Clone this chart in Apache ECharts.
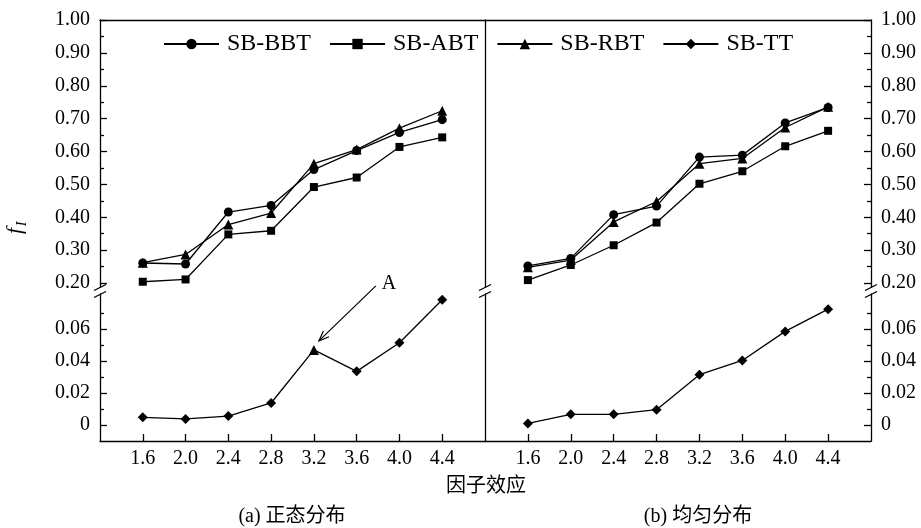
<!DOCTYPE html>
<html><head><meta charset="utf-8">
<script src="https://cdn.jsdelivr.net/npm/echarts@6/dist/echarts.min.js"></script>
<style>html,body{margin:0;padding:0;background:#fff}#c{width:921px;height:528px}</style>
</head><body><div id="c"></div><script>
// ---- data ----
const xVals = [1.6, 2.0, 2.4, 2.8, 3.2, 3.6, 4.0, 4.4];
// (a) normal distribution
const bbtA = [0.261, 0.258, 0.416, 0.436, 0.545, 0.603, 0.658, 0.697];
const abtA = [0.204, 0.211, 0.348, 0.359, 0.492, 0.521, 0.614, 0.643];
const rbtA = [0.262, 0.287, 0.378, 0.413, 0.563, 0.606, 0.671, 0.724];
const ttA  = [0.0048, 0.0038, 0.0056, 0.0138, 0.0470, 0.0336, 0.0515, 0.0784];
// (b) uniform distribution
const bbtB = [0.252, 0.275, 0.408, 0.434, 0.583, 0.589, 0.687, 0.734];
const abtB = [0.209, 0.255, 0.315, 0.384, 0.502, 0.540, 0.616, 0.663];
const rbtB = [0.248, 0.270, 0.386, 0.448, 0.563, 0.579, 0.673, 0.736];
const ttB  = [0.0010, 0.0067, 0.0067, 0.0096, 0.0315, 0.0404, 0.0586, 0.0725];
// tick labels
const upperTicks = [0.2, 0.3, 0.4, 0.5, 0.6, 0.7, 0.8, 0.9, 1.0];
const upperMinor = [0.25, 0.35, 0.45, 0.55, 0.65, 0.75, 0.85, 0.95];
const lowerTicks = [0, 0.02, 0.04, 0.06];
const lowerMinor = [0.01, 0.03, 0.05, 0.07];
const names = ['SB-BBT', 'SB-ABT', 'SB-RBT', 'SB-TT'];
const ttAMarkers = ['diamond','diamond','diamond','diamond','triangle','diamond','diamond','diamond'];

// ---- layout / style ----
const FONT = "'Liberation Serif', 'Times New Roman', serif";
const CJK = "'Liberation Serif', 'Noto Sans CJK SC', serif";
const L = 100, M = 485, R = 871, TOP = 20, UB = 287, LT = 294, BOT = 441;
const UMIN = 0.188, UMAX = 1.0, LMIN = -0.01, LMAX = 0.082;
const XMIN = 1.2, XMAX = 4.8;
const LW = 1.3;

const f2 = v => v.toFixed(2);
const fz = v => (v === 0 ? '0' : v.toFixed(2));

function yMain(g, pos, min, max, ticks, fmt) {
  return { type: 'value', gridIndex: g, position: pos, min, max,
    axisLine: { show: true, lineStyle: { color: '#000', width: LW } },
    axisTick: { show: true, inside: true, length: 7, customValues: ticks, lineStyle: { color: '#000', width: LW } },
    axisLabel: { show: true, customValues: ticks, formatter: fmt, fontSize: 20, fontFamily: FONT, color: '#000', margin: 10 },
    splitLine: { show: false } };
}
function yMinor(g, pos, min, max, ticks) {
  return { type: 'value', gridIndex: g, position: pos, min, max,
    axisLine: { show: false },
    axisTick: { show: true, inside: true, length: 4, customValues: ticks, lineStyle: { color: '#000', width: LW } },
    axisLabel: { show: false }, splitLine: { show: false } };
}
function yLine(g, pos, min, max) {
  return { type: 'value', gridIndex: g, position: pos, min, max,
    axisLine: { show: true, lineStyle: { color: '#000', width: LW } },
    axisTick: { show: false }, axisLabel: { show: false }, splitLine: { show: false } };
}
function xTop(g) {
  return { type: 'value', gridIndex: g, position: 'top', min: XMIN, max: XMAX,
    axisLine: { show: true, onZero: false, lineStyle: { color: '#000', width: LW } },
    axisTick: { show: false }, axisLabel: { show: false }, splitLine: { show: false } };
}
function xBottom(g) {
  return { type: 'value', gridIndex: g, position: 'bottom', min: XMIN, max: XMAX,
    axisLine: { show: true, onZero: false, lineStyle: { color: '#000', width: LW } },
    axisTick: { show: true, inside: true, length: 7, customValues: xVals, lineStyle: { color: '#000', width: LW } },
    axisLabel: { show: true, customValues: xVals, formatter: v => v.toFixed(1), fontSize: 20, fontFamily: FONT, color: '#000', margin: 8 },
    splitLine: { show: false } };
}
const symSize = { circle: 9, rect: 8, triangle: 10, diamond: 10 };
function ser(name, vals, symbol, xi, yi, overrides) {
  return { type: 'line', name, xAxisIndex: xi, yAxisIndex: yi, clip: false,
    symbol, symbolSize: symSize[symbol], showSymbol: true, animation: false,
    lineStyle: { color: '#000', width: LW }, itemStyle: { color: '#000' },
    data: xVals.map((x, i) => overrides && overrides[i] !== symbol
      ? { value: [x, vals[i]], symbol: overrides[i], symbolSize: symSize[overrides[i]] }
      : [x, vals[i]]) };
}

const option = {
  backgroundColor: '#fff',
  animation: false,
  grid: [
    { left: L, top: TOP, width: M - L, height: UB - TOP },
    { left: L, top: LT, width: M - L, height: BOT - LT },
    { left: M, top: TOP, width: R - M, height: UB - TOP },
    { left: M, top: LT, width: R - M, height: BOT - LT }
  ],
  xAxis: [xTop(0), xBottom(1), xTop(2), xBottom(3)],
  yAxis: [
    yMain(0, 'left', UMIN, UMAX, upperTicks, f2),
    yMinor(0, 'left', UMIN, UMAX, upperMinor),
    yLine(0, 'right', UMIN, UMAX),
    yMain(1, 'left', LMIN, LMAX, lowerTicks, fz),
    yMinor(1, 'left', LMIN, LMAX, lowerMinor),
    yLine(1, 'right', LMIN, LMAX),
    yMain(2, 'right', UMIN, UMAX, upperTicks, f2),
    yMinor(2, 'right', UMIN, UMAX, upperMinor),
    yMain(3, 'right', LMIN, LMAX, lowerTicks, fz),
    yMinor(3, 'right', LMIN, LMAX, lowerMinor)
  ],
  legend: {
    data: names, left: 158, top: 27, itemWidth: 55, itemHeight: 13, itemGap: 18,
    textStyle: { fontSize: 24, fontFamily: FONT, color: '#000', padding: [0, 0, 0, 3] }
  },
  series: [
    ser(names[0], bbtA, 'circle', 0, 0),
    ser(names[1], abtA, 'rect', 0, 0),
    ser(names[2], rbtA, 'triangle', 0, 0),
    ser(names[3], ttA, 'diamond', 1, 3, ttAMarkers),
    ser(names[0], bbtB, 'circle', 2, 6),
    ser(names[1], abtB, 'rect', 2, 6),
    ser(names[2], rbtB, 'triangle', 2, 6),
    ser(names[3], ttB, 'diamond', 3, 8)
  ]
};

const chart = echarts.init(document.getElementById('c'), null, { renderer: 'canvas' });
chart.setOption(option);

// ---- decorations ----
const g = [];
// axis break marks
[L, M, R].forEach(x => {
  [UB + 0.5, LT + 0.5].forEach(yy => {
    g.push({ type: 'line', shape: { x1: x - 6, y1: yy + 3, x2: x + 6, y2: yy - 3 },
      style: { stroke: '#000', lineWidth: LW }, z: 100 });
  });
});
// annotation A with arrow pointing to the 3.2 point of (a) SB-TT
const p = chart.convertToPixel({ xAxisIndex: 1, yAxisIndex: 3 }, [xVals[4], ttA[4]]);
const tip = [p[0] + 5, p[1] - 9], tail = [p[0] + 62, p[1] - 64];
const ang = Math.atan2(tail[1] - tip[1], tail[0] - tip[0]);
const ah = 11, spread = 0.38;
g.push({ type: 'line', shape: { x1: tail[0], y1: tail[1], x2: tip[0], y2: tip[1] }, style: { stroke: '#000', lineWidth: 1.2 }, z: 100 });
g.push({ type: 'polyline', shape: { points: [
  [tip[0] + ah * Math.cos(ang + spread), tip[1] + ah * Math.sin(ang + spread)],
  tip,
  [tip[0] + ah * Math.cos(ang - spread), tip[1] + ah * Math.sin(ang - spread)]
] }, style: { stroke: '#000', lineWidth: 1.2, fill: null }, z: 100 });
g.push({ type: 'text', x: p[0] + 75, y: p[1] - 66, style: { text: 'A', font: "20px " + FONT, fill: '#000', textAlign: 'center', textVerticalAlign: 'middle' }, z: 100 });
// y axis name f_I (rotated)
g.push({ type: 'group', x: 15, y: 231, rotation: Math.PI / 2, children: [
  { type: 'text', x: 0, y: 0, style: { text: 'f', font: "italic 22px " + FONT, fill: '#000', textAlign: 'center', textVerticalAlign: 'middle' } },
  { type: 'text', x: 7, y: 7, style: { text: 'I', font: "italic 14px " + FONT, fill: '#000', textAlign: 'center', textVerticalAlign: 'middle' } }
] });
// x axis name and sub captions
g.push({ type: 'text', x: 486, y: 487, style: { text: '因子效应', font: "20px " + CJK, fill: '#000', textAlign: 'center', textVerticalAlign: 'middle' } });
g.push({ type: 'text', x: 292, y: 517, style: { text: '(a) 正态分布', font: "20px " + CJK, fill: '#000', textAlign: 'center', textVerticalAlign: 'middle' } });
g.push({ type: 'text', x: 698, y: 517, style: { text: '(b) 均匀分布', font: "20px " + CJK, fill: '#000', textAlign: 'center', textVerticalAlign: 'middle' } });
chart.setOption({ graphic: g });
</script></body></html>
